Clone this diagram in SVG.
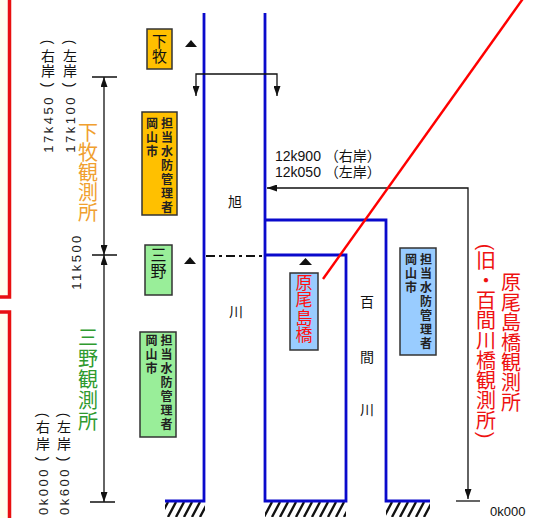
<svg xmlns="http://www.w3.org/2000/svg" width="540" height="518" viewBox="0 0 540 518">
<style>
text{font-family:"Liberation Sans","Noto Sans CJK JP",sans-serif;fill:#111}
.cjk{font-family:"Noto Sans CJK JP",sans-serif}
.v{writing-mode:vertical-rl;font-family:"Noto Sans CJK JP",sans-serif}
.rot{dominant-baseline:central;font-family:"Liberation Sans",sans-serif;font-size:13px;letter-spacing:2.5px;fill:#222}
.par{dominant-baseline:central;text-anchor:middle;font-family:"Liberation Sans",sans-serif}
.blue{stroke:#0a0acc;stroke-width:2.8;fill:none}
.ln{stroke:#111;stroke-width:1.3;fill:none}
.box{stroke:#333;stroke-width:1.5}
.mgr{font-size:12px;letter-spacing:2px;font-weight:bold;fill:#222}
.tri{fill:#111}
.frame{fill:#ffffee;stroke:#e81010;stroke-width:3.5}
</style>
<defs>
<marker id="ah" viewBox="0 0 10 7" refX="10" refY="3.5" markerWidth="10" markerHeight="7" markerUnits="userSpaceOnUse" orient="auto-start-reverse"><path d="M0,0 L10,3.5 L0,7 z" fill="#111"/></marker>
<pattern id="hatch" patternUnits="userSpaceOnUse" x="0" y="502" width="8" height="15"><path d="M-8,15 L0,0 M0,15 L8,0 M8,15 L16,0" stroke="#111" stroke-width="2.4"/></pattern>
</defs>

<g id="frames">
<rect class="frame" x="-20" y="-20" width="29.5" height="317"/>
<rect class="frame" x="-20" y="312" width="29.5" height="230"/>
</g>

<g id="ground">
<rect x="165" y="502" width="40" height="15" fill="url(#hatch)"/>
<rect x="265" y="502" width="81" height="15" fill="url(#hatch)"/>
<rect x="386" y="502" width="44" height="15" fill="url(#hatch)"/>
</g>

<g id="rivers">
<path class="blue" d="M204,13 V501 H165"/>
<path class="blue" d="M265,13 V501 H346 V255 H265"/>
<path class="blue" d="M265,220 H386 V501 H430"/>
<text x="235" y="207" font-size="14" text-anchor="middle" class="cjk">旭</text>
<text x="236" y="317" font-size="14" text-anchor="middle" class="cjk">川</text>
<text x="367" y="307" font-size="14" text-anchor="middle" class="cjk">百</text>
<text x="367" y="362" font-size="14" text-anchor="middle" class="cjk">間</text>
<text x="367" y="415" font-size="14" text-anchor="middle" class="cjk">川</text>
</g>

<g id="connectors">
<path class="ln" d="M196,96 V74 H277 V96" marker-start="url(#ah)" marker-end="url(#ah)"/>
<path class="ln" d="M468,499 V188 H267" marker-start="url(#ah)" marker-end="url(#ah)"/>
<path class="ln" d="M456,501 H480"/>
<path class="ln" d="M104,77 V255" marker-start="url(#ah)" marker-end="url(#ah)"/>
<path class="ln" d="M104,255 V502" marker-start="url(#ah)" marker-end="url(#ah)"/>
<path class="ln" d="M92,77 H117 M92,255 H117 M90,502 H115"/>
<path d="M206,256 H263" stroke="#111" stroke-width="2.2" stroke-dasharray="9 4 3 4" fill="none"/>
<path d="M525.6,-5 L323,279" stroke="#ff0000" stroke-width="2.4" fill="none"/>
</g>

<g id="markers">
<polygon class="tri" points="185,47 197,47 191,40"/>
<polygon class="tri" points="184,264 196,264 190,257"/>
<polygon class="tri" points="299,265 312,265 305.5,258"/>
</g>

<g id="shimomaki">
<rect class="box" x="147" y="29" width="25" height="40" fill="#ffc000"/>
<text class="v" x="159.5" y="34" font-size="15">下牧</text>
</g>

<g id="mgr-shimomaki">
<rect class="box" x="142" y="112" width="35" height="103" fill="#ffc000"/>
<text class="v mgr" x="167" y="117">担当水防管理者</text>
<text class="v mgr" x="152" y="117">岡山市</text>
</g>

<g id="mino">
<rect class="box" x="145" y="245" width="27" height="50" fill="#99ee99"/>
<text class="v" x="158.5" y="247" font-size="16">三野</text>
</g>

<g id="mgr-mino">
<rect class="box" x="140" y="332" width="36" height="105" fill="#99ee99"/>
<text class="v mgr" x="166.5" y="334">担当水防管理者</text>
<text class="v mgr" x="151.5" y="334">岡山市</text>
</g>

<g id="haraojima">
<rect class="box" x="290" y="273" width="28" height="77" fill="#99ccff"/>
<text class="v" x="304" y="274" font-size="17" letter-spacing="0.5" style="fill:#ff1010">原尾島橋</text>
</g>

<g id="mgr-hyakken">
<rect class="box" x="400" y="248" width="36" height="107" fill="#99ccff"/>
<text class="v mgr" x="426" y="253">担当水防管理者</text>
<text class="v mgr" x="411" y="253">岡山市</text>
</g>

<g id="labels">
<text x="275" y="161" font-size="14">12k900 （右岸）</text>
<text x="275" y="177" font-size="14">12k050 （左岸）</text>
<text x="490" y="516" font-size="13">0k000</text>
<text class="v" x="88" y="122" font-size="20" style="fill:#f0a030">下牧観測所</text>
<text class="v" x="88" y="327" font-size="20" letter-spacing="1" style="fill:#2f9a2f">三野観測所</text>
<text class="v" x="511" y="272" font-size="20" style="fill:#ee1111">原尾島橋観測所</text>
<text class="par" font-size="20" style="fill:#ee1111" transform="translate(486,247) rotate(90)">(</text>
<text class="v" x="486" y="250" font-size="20" style="fill:#ee1111">旧・百間川橋観測所</text>
<text class="par" font-size="20" style="fill:#ee1111" transform="translate(486,435) rotate(90)">)</text>

<text class="par" font-size="14" transform="translate(48,42) rotate(90)">(</text>
<text class="v" x="48" y="48.5" font-size="14" letter-spacing="1.5">右岸</text>
<text class="par" font-size="14" transform="translate(48,85) rotate(90)">)</text>
<text class="par" font-size="14" transform="translate(70,42) rotate(90)">(</text>
<text class="v" x="70" y="48.5" font-size="14" letter-spacing="1.5">左岸</text>
<text class="par" font-size="14" transform="translate(70,85) rotate(90)">)</text>
<text class="rot" transform="translate(48,95) rotate(-90)" text-anchor="end">17k450</text>
<text class="rot" transform="translate(70,95) rotate(-90)" text-anchor="end">17k100</text>
<text class="rot" transform="translate(76,261.5) rotate(-90)" text-anchor="middle">11k500</text>

<text class="par" font-size="14" transform="translate(43,415) rotate(90)">(</text>
<text class="v" x="43" y="420" font-size="14" letter-spacing="2.5">右岸</text>
<text class="par" font-size="14" transform="translate(43,459) rotate(90)">)</text>
<text class="par" font-size="14" transform="translate(64,415) rotate(90)">(</text>
<text class="v" x="64" y="420" font-size="14" letter-spacing="2.5">左岸</text>
<text class="par" font-size="14" transform="translate(64,459) rotate(90)">)</text>
<text class="rot" transform="translate(43,467) rotate(-90)" text-anchor="end">0k000</text>
<text class="rot" transform="translate(64,467) rotate(-90)" text-anchor="end">0k600</text>
</g>
</svg>
